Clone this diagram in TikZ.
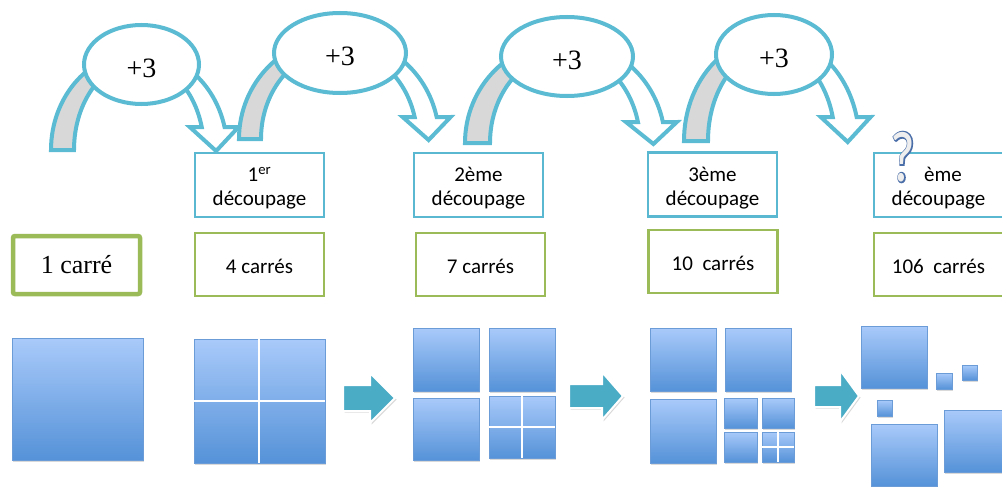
\documentclass[tikz,border=0pt]{standalone}
\usepackage{fontspec}
\setmainfont{Carlito}
\newfontfamily\tnr{Liberation Serif}
\newfontfamily\qbold[FakeBold=4]{Carlito}
\usetikzlibrary{shapes.geometric,shadows}
\definecolor{arccyan}{HTML}{5ABBD2}
\definecolor{arcgray}{HTML}{D8D8D8}
\definecolor{boxblue}{HTML}{5AB8D0}
\definecolor{boxgreen}{HTML}{9BBB59}
\definecolor{sqtop}{HTML}{A9CAFA}
\definecolor{sqbot}{HTML}{5592D8}
\definecolor{sqedge}{HTML}{6C9CD8}
\definecolor{blockteal}{HTML}{4BACC6}
\definecolor{qblue}{HTML}{4A6EA8}
\definecolor{qfill}{HTML}{EEEEEE}
% curved arrow: cx cy rxo ryo rxi ryi h
\newcommand\curvarr[7]{%
  \pgfmathsetmacro\ao{asin(#7/#4)}%
  \pgfmathsetmacro\ai{asin(#7/#6)}%
  \pgfmathsetmacro\xo{#1+#3*cos(\ao)}%
  \pgfmathsetmacro\xi{#1+#5*cos(\ai)}%
  \pgfmathsetmacro\xm{(\xo+\xi)/2+3}%
  \draw[arcline, fill=arcgray] (#1-#3,#2)
     arc[start angle=180,end angle=90,x radius=#3pt,y radius=#4pt]
     -- (#1,#2-#6)
     arc[start angle=90,end angle=180,x radius=#5pt,y radius=#6pt] -- cycle;
  \draw[arcline, fill=white] (#1,#2-#4)
     arc[start angle=90,end angle=\ao,x radius=#3pt,y radius=#4pt]
     -- (\xo+14,#2-#7) -- (\xm,#2+1) -- (\xi-12,#2-#7) -- (\xi,#2-#7)
     arc[start angle=\ai,end angle=90,x radius=#5pt,y radius=#6pt] -- cycle;
}
% lowered content keeping its reported extents
\newcommand\lowr[2]{\raisebox{-#1}[\height][\depth]{#2}}
\newcommand\twol[2]{\lowr{4pt}{\begin{tabular}{@{}c@{}}#1\\#2\end{tabular}}}
\begin{document}
\begin{tikzpicture}[x=1pt,y=-1pt,
  arcline/.style={draw=arccyan, line width=4pt},
  plusell/.style={ellipse, draw=arccyan, line width=4pt, fill=white, inner sep=0pt,
    font=\tnr\fontsize{28}{30}\selectfont},
  bluebox/.style={rectangle, draw=boxblue, line width=2.5pt, fill=white,
    minimum width=129pt, minimum height=64pt, inner sep=0pt,
    font=\fontsize{21}{24}\selectfont},
  greenbox/.style={rectangle, draw=boxgreen, line width=2.5pt, fill=white,
    minimum width=129pt, minimum height=63pt, inner sep=0pt,
    font=\fontsize{21}{24}\selectfont},
  sq/.style={draw=sqedge, line width=0.8pt, top color=sqtop, bottom color=sqbot,
    drop shadow={shadow xshift=0.6pt, shadow yshift=-2pt, opacity=0.3}},
  splitline/.style={draw=white, line width=1.6pt},
  blockarr/.style={fill=blockteal, draw=white, line width=2pt,
    drop shadow={shadow xshift=1.5pt, shadow yshift=-1.5pt, opacity=0.3}},
  qnode/.style={inner sep=0pt, xscale=0.74}
]
\useasboundingbox (0,0) rectangle (1002,487);
\clip (0,0) rectangle (1002,487);

% label boxes
\node[bluebox] (b1) at (259.5,185) {\twol{1\textsuperscript{er}}{découpage}};
\node[bluebox] (b2) at (478.5,185) {\twol{2ème}{découpage}};
\node[bluebox] (b3) at (712.5,184.5) {\twol{3ème}{découpage}};
\node[bluebox] (b4) at (938.5,185) {\twol{\hspace*{9pt}ème}{découpage}};

\node[greenbox, line width=4.5pt, rounded corners=2pt, minimum width=127pt,
  minimum height=58pt, font=\tnr\fontsize{26}{28}\selectfont] (g0) at (76.5,265) {1 carré};
\node[greenbox] (g1) at (259.5,264.5) {\lowr{2pt}{4 carrés}};
\node[greenbox] (g2) at (480.5,264.5) {\lowr{2pt}{7 carrés}};
\node[greenbox] (g3) at (713,261.5) {\lowr{2pt}{10~~carrés}};
\node[greenbox] (g4) at (938.5,264.5) {\lowr{2pt}{106~~carrés}};

% curved arrows
\curvarr{139}{150}{88}{98}{65}{88}{23}
\curvarr{339}{139}{100}{102}{78}{90}{22}
\curvarr{565}{143}{100}{102}{75}{90}{21}
\curvarr{771.5}{141}{87.5}{104}{63.5}{91}{24}

% +3 ellipses
\node[plusell, minimum width=115pt, minimum height=79pt] (e1) at (141.5,64.5) {\lowr{3.5pt}{+3}};
\node[plusell, minimum width=132pt, minimum height=80pt] (e2) at (340,53) {\lowr{3.5pt}{+3}};
\node[plusell, minimum width=132pt, minimum height=79pt] (e3) at (567,56.5) {\lowr{3.5pt}{+3}};
\node[plusell, minimum width=116pt, minimum height=79pt] (e4) at (774,54.5) {\lowr{3.5pt}{+3}};

% question mark (light fill with blue outline)
\node[qnode, text=qblue, font=\qbold\fontsize{72}{72}\selectfont] (qo) at (903,157) {?};
\node[qnode, text=qfill, font=\fontsize{72}{72}\selectfont] (qm) at (903,157) {?};

% squares: step 0
\draw[sq] (12,338) rectangle (143,460);
% step 1
\draw[sq] (194,339) rectangle (325,463);
\draw[splitline] (259,339) -- (259,463);
\draw[splitline] (194,401) -- (325,401);
% step 2
\draw[sq] (413,328) rectangle (479,391);
\draw[sq] (489,328) rectangle (555,391);
\draw[sq] (413,398) rectangle (479,460);
\draw[sq] (489,396) rectangle (555,458);
\draw[splitline] (522,396) -- (522,458);
\draw[splitline] (489,427) -- (555,427);
% step 3
\draw[sq] (650,328) rectangle (716,391);
\draw[sq] (725,328) rectangle (791,391);
\draw[sq] (650,399) rectangle (716,463);
\draw[sq] (724,398) rectangle (757,428);
\draw[sq] (762,398) rectangle (794,428);
\draw[sq] (724,432) rectangle (757,462);
\draw[sq] (762,432) rectangle (794,462);
\draw[splitline] (778,432) -- (778,462);
\draw[splitline] (762,447) -- (794,447);
% step n
\draw[sq] (861,326) rectangle (927,388);
\draw[sq] (936,373) rectangle (952,389);
\draw[sq] (962,365) rectangle (977,380);
\draw[sq] (877,400) rectangle (892,416);
\draw[sq] (871,424) rectangle (937,486);
\draw[sq] (944,410) rectangle (1010,472);

% block arrows
\draw[blockarr] (343,385) -- (370,385) -- (370,373) -- (395,398) -- (370,423) -- (370,411) -- (343,411) -- cycle;
\draw[blockarr] (569,384) -- (602,384) -- (602,372) -- (623,396) -- (602,420) -- (602,408) -- (569,408) -- cycle;
\draw[blockarr] (814,385) -- (840,385) -- (840,370) -- (859,396) -- (840,422) -- (840,407) -- (814,407) -- cycle;
\end{tikzpicture}
\end{document}
